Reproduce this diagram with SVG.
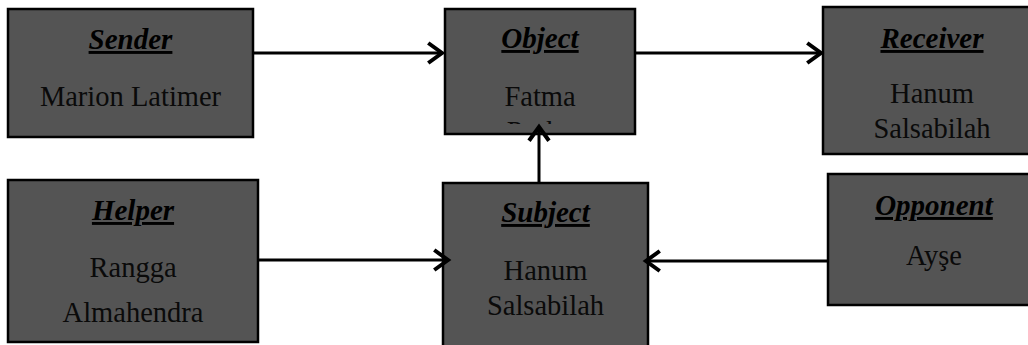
<svg xmlns="http://www.w3.org/2000/svg" width="1028" height="345" viewBox="0 0 1028 345">
<style>
.box{fill:#545454;stroke:#000;stroke-width:2.5}
.t{font-family:"Liberation Serif","Times New Roman",serif;font-size:29px;font-weight:bold;font-style:italic;text-anchor:middle;fill:#000;text-decoration:underline}
.b{font-family:"Liberation Serif","Times New Roman",serif;font-size:28.5px;text-anchor:middle;fill:#0a0a0a}
.c{stroke:#000;stroke-width:3;fill:none}
</style>
<defs>
<marker id="ah" markerUnits="userSpaceOnUse" markerWidth="30" markerHeight="30" refX="0" refY="0" viewBox="-16 -12 20 24" orient="auto">
<path d="M-11,-8 L0,0 L-11,8" fill="none" stroke="#000" stroke-width="3.2"/>
</marker>
<clipPath id="objclip"><rect x="446" y="10" width="188" height="114"/></clipPath>
</defs>
<rect width="1028" height="345" fill="#fff"/>
<g id="sender">
<rect class="box" x="8" y="9" width="245" height="128"/>
<text class="t" x="130.5" y="49">Sender</text>
<text class="b" x="130.5" y="106">Marion Latimer</text>
</g>
<g id="object">
<rect class="box" x="445" y="9" width="190" height="125"/>
<text class="t" x="540" y="48">Object</text>
<g clip-path="url(#objclip)">
<text class="b" x="540" y="106">Fatma</text>
<text class="b" x="540" y="141">Pasha</text>
</g>
</g>
<g id="receiver">
<rect class="box" x="823" y="7" width="220" height="147"/>
<text class="t" x="932" y="48">Receiver</text>
<text class="b" x="932" y="103">Hanum</text>
<text class="b" x="932" y="138">Salsabilah</text>
</g>
<g id="helper">
<rect class="box" x="8" y="180" width="250" height="162"/>
<text class="t" x="133" y="220">Helper</text>
<text class="b" x="133" y="277">Rangga</text>
<text class="b" x="133" y="322">Almahendra</text>
</g>
<g id="subject">
<rect class="box" x="443" y="183" width="205" height="170"/>
<text class="t" x="545.5" y="222">Subject</text>
<text class="b" x="545.5" y="280">Hanum</text>
<text class="b" x="545.5" y="315">Salsabilah</text>
</g>
<g id="opponent">
<rect class="box" x="828" y="174" width="215" height="131"/>
<text class="t" x="934" y="215">Opponent</text>
<text class="b" x="934" y="265">Ayşe</text>
</g>
<g id="connectors">
<line class="c" x1="254" y1="53" x2="442" y2="53" marker-end="url(#ah)"/>
<line class="c" x1="636" y1="53" x2="821" y2="53" marker-end="url(#ah)"/>
<line class="c" x1="259" y1="260" x2="448" y2="260" marker-end="url(#ah)"/>
<line class="c" x1="827" y1="261" x2="646" y2="261" marker-end="url(#ah)"/>
<line class="c" x1="539" y1="182" x2="539" y2="127" marker-end="url(#ah)"/>
</g>
</svg>
